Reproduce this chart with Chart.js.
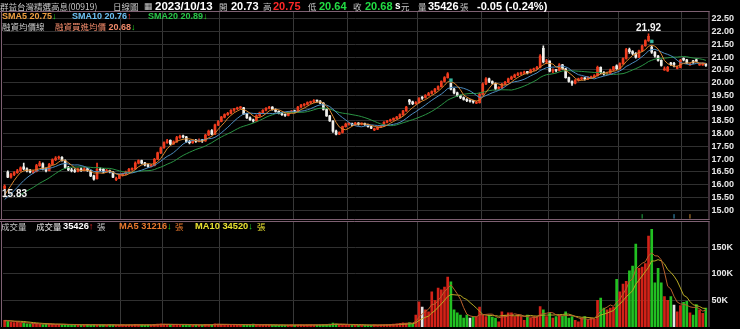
<!DOCTYPE html>
<html><head><meta charset="utf-8">
<script src="https://cdn.jsdelivr.net/npm/chart.js@4.4.0/dist/chart.umd.min.js"></script>
<style>
html,body{margin:0;padding:0;background:#000;}
#wrap{position:relative;width:740px;height:329px;background:#000;overflow:hidden;}
canvas{position:absolute;left:0;}
#c1{top:11px;}
#c2{top:221px;}
.t{position:absolute;white-space:nowrap;line-height:12px;height:12px;font-family:"Liberation Sans",Arial,sans-serif;font-weight:bold;font-size:9px;z-index:5;}
.cjk{font-family:"Noto Sans CJK TC","Noto Sans CJK SC",sans-serif;font-weight:normal;font-size:8.5px;}
.g{color:#c8c8c8;}
.dn{color:#22dd22;}
.up{color:#ff2a2a;}
</style></head>
<body><div id="wrap">
<canvas id="c1" width="740" height="209"></canvas>
<canvas id="c2" width="740" height="106"></canvas>

<span class="t cjk g" style="left:0px;top:0px;">群益台灣精選高息(00919)</span>
<span class="t cjk g" style="left:113px;top:0px;">日線圖</span>
<span class="t g" style="left:144px;top:0px;font-size:9px;font-weight:normal;">▦</span>
<span class="t" style="left:155px;top:0px;font-size:11.5px;color:#fff;">2023/10/13</span>
<span class="t cjk g" style="left:219px;top:0px;">開</span>
<span class="t" style="left:231px;top:0px;font-size:11px;color:#fff;">20.73</span>
<span class="t cjk g" style="left:263px;top:0px;">高</span>
<span class="t" style="left:273px;top:0px;font-size:11px;color:#ff2828;">20.75</span>
<span class="t cjk g" style="left:308px;top:0px;">低</span>
<span class="t" style="left:319px;top:0px;font-size:11px;color:#22dd44;">20.64</span>
<span class="t cjk g" style="left:353px;top:0px;">收</span>
<span class="t" style="left:365px;top:0px;font-size:11px;color:#22dd44;">20.68</span>
<span class="t" style="left:395px;top:0px;font-size:10px;color:#fff;">s</span>
<span class="t cjk g" style="left:401px;top:0px;">元</span>
<span class="t cjk g" style="left:418px;top:0px;">量</span>
<span class="t" style="left:428px;top:0px;font-size:11px;color:#fff;">35426</span>
<span class="t cjk g" style="left:460px;top:0px;">張</span>
<span class="t" style="left:477px;top:0px;font-size:11px;color:#fff;">-0.05 (-0.24%)</span>

<span class="t" style="left:2px;top:10px;color:#f0a040;">SMA5 20.75<span class="dn">↓</span></span>
<span class="t" style="left:72px;top:10px;color:#6cc0f4;">SMA10 20.76<span class="up">↑</span></span>
<span class="t" style="left:148px;top:10px;color:#28c848;">SMA20 20.89<span class="dn">↓</span></span>
<span class="t cjk g" style="left:2px;top:20px;">融資均價線</span>
<span class="t" style="left:55px;top:20px;color:#f08a6a;"><span class="cjk">融資買進均價</span> 20.68<span class="dn">↓</span></span>

<span class="t cjk g" style="left:1px;top:220px;">成交量</span>
<span class="t cjk" style="left:36px;top:220px;color:#e8e8e8;">成交量</span>
<span class="t" style="left:63px;top:220px;font-size:9.3px;color:#fff;">35426<span class="up">↑</span></span>
<span class="t cjk g" style="left:97px;top:220px;">張</span>
<span class="t" style="left:119px;top:220px;font-size:9.3px;color:#e8782c;">MA5 31216<span class="dn">↓</span></span>
<span class="t cjk" style="left:175px;top:220px;color:#e8782c;">張</span>
<span class="t" style="left:195px;top:220px;font-size:9.3px;color:#e8e030;">MA10 34520<span class="dn">↓</span></span>
<span class="t cjk" style="left:257px;top:220px;color:#e8e030;">張</span>
</div>
<script>
// ---------- data ----------
const priorCloses = [15.02,15.08,15.05,15.10,15.15,15.12,15.18,15.25,15.22,15.30,15.28,15.35,15.45,15.52,15.70];
const priorVolumes = [42000,25000,18000,14000,15000,12000,11000,10000,12000,9500,9000,10500,12500,11000,13000];

const opens = [
15.86,16.50,16.30,16.40,16.47,16.55,16.70,16.62,16.55,16.48,
16.52,16.75,16.82,16.62,16.55,16.80,16.98,17.05,17.08,16.95,
16.68,16.58,16.56,16.52,16.62,16.55,16.62,16.55,16.35,16.24,
16.60,16.60,16.50,16.56,16.50,16.20,16.25,16.38,16.42,16.50,
16.60,16.62,16.85,16.95,16.86,16.78,16.72,16.75,17.00,17.25,
17.45,17.65,17.74,17.60,17.68,17.85,17.92,17.88,17.70,17.65,
17.74,17.70,17.76,17.72,17.95,18.12,17.98,18.35,18.48,18.65,
18.75,18.80,18.92,18.98,19.02,19.02,18.78,18.62,18.55,18.50,
18.70,18.82,18.92,19.00,19.05,18.95,18.88,18.80,18.75,18.72,
18.85,18.90,18.85,19.05,19.12,19.15,19.22,19.25,19.30,19.28,
19.20,18.95,18.70,18.50,18.10,17.98,18.05,18.28,18.38,18.40,
18.35,18.42,18.38,18.40,18.36,18.28,18.15,18.18,18.26,18.30,
18.45,18.50,18.55,18.60,18.65,18.75,18.90,19.32,19.25,19.18,
19.22,19.40,19.42,19.50,19.58,19.65,19.75,19.85,20.05,20.20,
19.98,19.75,19.60,19.50,19.42,19.35,19.28,19.28,19.20,19.22,
19.55,19.95,20.15,20.05,19.98,19.78,19.80,19.95,20.02,20.15,
20.22,20.30,20.35,20.38,20.42,20.40,20.50,20.55,20.60,21.35,
20.82,20.85,20.45,20.50,20.48,20.70,20.55,20.20,20.05,19.98,
20.10,20.15,20.18,20.15,20.20,20.22,20.28,20.60,20.40,20.35,
20.38,20.50,20.66,20.55,20.75,20.95,21.30,21.22,21.15,21.00,
21.25,21.45,21.65,21.40,21.20,21.05,20.88,20.50,20.46,20.78,
20.72,20.56,20.60,20.96,20.90,20.70,20.86,20.90,20.70,20.70,
20.73];

const highs = [
16.00,16.55,16.45,16.52,16.60,16.70,16.85,16.66,16.60,16.58,
16.80,16.92,16.86,16.66,16.84,17.02,17.10,17.12,17.10,16.98,
16.72,16.64,16.62,16.65,16.66,16.68,16.64,16.58,16.38,16.85,
16.66,16.64,16.60,16.58,16.52,16.30,16.42,16.46,16.54,16.64,
16.66,16.90,16.98,16.97,16.88,16.80,16.80,17.04,17.28,17.48,
17.68,17.78,17.76,17.72,17.90,17.95,17.95,17.90,17.74,17.76,
17.78,17.80,17.78,17.98,18.14,18.16,18.38,18.52,18.68,18.78,
18.84,18.95,19.00,19.05,19.08,19.04,18.80,18.66,18.58,18.74,
18.85,18.95,19.03,19.08,19.07,18.98,18.90,18.83,18.78,18.88,
18.92,18.93,19.08,19.15,19.18,19.25,19.28,19.34,19.32,19.30,
19.22,18.98,18.72,18.52,18.14,18.08,18.30,18.42,18.44,18.42,
18.45,18.44,18.43,18.42,18.38,18.30,18.22,18.28,18.33,18.48,
18.53,18.58,18.62,18.68,18.78,18.92,19.08,19.35,19.28,19.26,
19.42,19.46,19.54,19.62,19.68,19.78,19.88,20.08,20.24,20.40,
20.00,19.78,19.63,19.52,19.45,19.38,19.33,19.30,19.28,19.60,
20.00,20.20,20.18,20.08,20.00,19.85,19.98,20.06,20.18,20.26,
20.34,20.40,20.42,20.46,20.45,20.54,20.58,20.64,21.10,21.45,
20.92,20.86,20.55,20.52,20.75,20.72,20.57,20.22,20.08,20.12,
20.18,20.22,20.20,20.24,20.26,20.32,20.65,20.62,20.44,20.42,
20.54,20.64,20.70,20.78,20.98,21.35,21.36,21.26,21.18,21.28,
21.48,21.68,21.92,21.45,21.22,21.08,20.90,20.62,20.64,20.80,
20.80,20.66,20.92,20.98,20.92,20.76,20.88,20.94,20.76,20.78,
20.75];

const lows = [
15.83,16.28,16.26,16.36,16.44,16.52,16.58,16.50,16.46,16.44,
16.50,16.72,16.58,16.50,16.54,16.78,16.94,17.00,16.92,16.64,
16.55,16.50,16.48,16.50,16.52,16.54,16.52,16.32,16.18,16.22,
16.54,16.46,16.48,16.46,16.28,16.16,16.24,16.34,16.40,16.48,
16.56,16.60,16.82,16.82,16.74,16.68,16.70,16.74,16.98,17.22,
17.42,17.62,17.56,17.58,17.66,17.82,17.84,17.66,17.60,17.62,
17.66,17.68,17.66,17.70,17.92,17.95,17.96,18.32,18.46,18.62,
18.72,18.78,18.88,18.94,18.98,18.76,18.60,18.52,18.45,18.48,
18.68,18.80,18.90,18.97,18.92,18.85,18.78,18.72,18.68,18.70,
18.82,18.82,18.84,19.02,19.08,19.12,19.18,19.22,19.24,19.18,
18.92,18.68,18.48,18.05,17.95,17.96,18.02,18.26,18.34,18.32,
18.33,18.34,18.35,18.33,18.26,18.20,18.12,18.16,18.24,18.28,
18.42,18.48,18.52,18.58,18.62,18.72,18.88,19.15,19.14,19.16,
19.20,19.35,19.40,19.48,19.55,19.62,19.72,19.83,20.02,20.18,
19.72,19.56,19.46,19.38,19.32,19.26,19.24,19.20,19.18,19.20,
19.52,19.92,20.00,19.94,19.72,19.74,19.78,19.92,20.00,20.12,
20.20,20.28,20.32,20.36,20.35,20.38,20.47,20.52,20.58,20.78,
20.75,20.42,20.40,20.42,20.46,20.52,20.18,20.02,19.90,19.95,
20.06,20.12,20.10,20.12,20.16,20.20,20.26,20.36,20.30,20.32,
20.36,20.46,20.52,20.53,20.72,20.92,21.15,21.10,20.96,20.98,
21.22,21.42,21.62,21.15,21.00,20.85,20.65,20.48,20.44,20.68,
20.62,20.54,20.58,20.86,20.75,20.68,20.76,20.82,20.68,20.68,
20.64];

const closes = [
15.95,16.30,16.40,16.48,16.55,16.66,16.62,16.55,16.50,16.52,
16.75,16.85,16.62,16.55,16.80,16.98,17.05,17.08,16.95,16.68,
16.58,16.55,16.52,16.60,16.55,16.62,16.55,16.35,16.22,16.60,
16.58,16.50,16.56,16.50,16.30,16.25,16.38,16.42,16.50,16.60,
16.62,16.85,16.95,16.85,16.78,16.72,16.75,17.00,17.25,17.45,
17.65,17.72,17.60,17.68,17.85,17.90,17.88,17.70,17.65,17.72,
17.70,17.75,17.72,17.95,18.10,17.98,18.35,18.48,18.65,18.75,
18.80,18.92,18.98,19.02,19.05,18.78,18.62,18.55,18.50,18.70,
18.82,18.92,19.00,19.05,18.95,18.88,18.80,18.75,18.72,18.85,
18.88,18.85,19.05,19.12,19.15,19.22,19.25,19.30,19.28,19.20,
18.95,18.70,18.50,18.10,17.98,18.05,18.28,18.38,18.40,18.35,
18.42,18.38,18.40,18.36,18.28,18.22,18.18,18.26,18.30,18.45,
18.50,18.55,18.60,18.65,18.75,18.90,19.05,19.25,19.18,19.22,
19.38,19.40,19.50,19.58,19.65,19.75,19.85,20.05,20.20,20.35,
19.75,19.60,19.50,19.42,19.35,19.30,19.28,19.25,19.22,19.55,
19.95,20.15,20.05,19.98,19.78,19.80,19.95,20.02,20.15,20.22,
20.30,20.35,20.38,20.42,20.40,20.50,20.55,20.60,21.05,20.82,
20.85,20.45,20.50,20.48,20.70,20.55,20.20,20.05,19.98,20.10,
20.15,20.18,20.15,20.20,20.22,20.28,20.60,20.40,20.35,20.38,
20.50,20.62,20.55,20.75,20.95,21.30,21.22,21.15,21.00,21.25,
21.45,21.65,21.82,21.20,21.05,20.88,20.68,20.55,20.60,20.72,
20.72,20.60,20.88,20.90,20.78,20.74,20.80,20.84,20.72,20.73,
20.68];

const volumes = [
12000,9500,8200,7600,9000,7200,6800,5200,4800,5500,
6200,4600,3900,4300,5100,4700,3800,4400,3600,4100,
3300,3700,3000,3400,2900,3600,4200,3100,3800,2700,
3200,3500,2800,3900,3300,2600,3100,3600,2900,3400,
3000,4100,3700,3200,2800,3300,3000,4300,4800,5200,
4600,4100,3600,3900,4400,3500,3200,3800,3100,2900,
3300,2700,3000,4200,4500,3800,5100,4700,4300,3900,
3500,3700,3300,3100,3600,4000,3800,3300,4600,3400,
3100,2900,3200,3400,2800,3000,2600,2900,2700,3100,
3300,2800,3500,3200,3000,3400,3600,3100,2900,3300,
3700,4200,4800,6500,5200,3900,3600,3300,3000,2800,
2900,2600,2800,3100,2700,3000,3200,2900,3300,3600,
3800,4200,4600,5400,6200,7100,6800,7500,5800,22000,
47000,37000,32000,28000,66000,50000,73000,70000,75000,94000,
85000,32000,26000,22000,16000,22000,16000,19000,19000,37000,
22000,19000,22000,18000,16000,9000,28000,22000,26000,26000,
19000,22000,19000,12000,22000,16000,19000,19000,38000,32000,
19000,26000,16000,19000,22000,20000,28000,16000,19000,12000,
9000,16000,19000,12000,16000,14000,50000,54000,35000,32000,
35000,37000,90000,66000,81000,86000,106000,115000,157000,111000,
113000,120000,172000,185000,83000,111000,83000,57000,50000,57000,
41000,28000,40000,46000,48000,26000,22000,42000,32000,25000,
35426];

const monthStartIdx = [37, 50, 68, 91, 108, 130, 150, 171, 193, 213];
const exDivIdx = [140, 203];
const exDivMarkY = [20.10, 21.62];
const eventIdx = [200, 210, 215];
const eventColors = ['#22aa44', '#3a9ac8', '#c88a30'];
const priceTicks = [15.00,15.50,16.00,16.50,17.00,17.50,18.00,18.50,19.00,19.50,20.00,20.50,21.00,21.50,22.00,22.50];
const volTicks = [50000, 100000, 150000];

// ---------- derived ----------
const labels = closes.map((c, i) => String(i));
function sma(series, prior, n) {
  const all = prior.concat(series);
  return series.map((_, i) => {
    const end = prior.length + i;
    if (end + 1 < n) return null;
    let s = 0;
    for (let k = end - n + 1; k <= end; k++) s += all[k];
    return s / n;
  });
}
const sma5 = sma(closes, priorCloses, 5);
const sma10 = sma(closes, priorCloses, 10);
const sma20 = sma(closes, priorCloses, 20);
const vma5 = sma(volumes, priorVolumes, 5);
const vma10 = sma(volumes, priorVolumes, 10);

const dir = closes.map((c, i) => c > opens[i] ? 1 : (c < opens[i] ? -1 : 0));
const candleColor = dir.map(d => d > 0 ? '#f03c1e' : '#f0f0ec');
const volColor = dir.map(d => d > 0 ? '#d22218' : (d < 0 ? '#22c022' : '#e4e4e4'));
const bodies = opens.map((o, i) => [Math.min(o, closes[i]), Math.max(o, closes[i])]);
const wicks = lows.map((l, i) => [l, highs[i]]);
const exDivData = closes.map(() => null);
exDivIdx.forEach((k, j) => { exDivData[k] = exDivMarkY[j]; });
const eventData = closes.map(() => null);
const eventPtColor = closes.map(() => 'rgba(0,0,0,0)');
eventIdx.forEach((k, j) => { eventData[k] = 14.76; eventPtColor[k] = eventColors[j]; });

const monthSet = new Set(monthStartIdx);
const FRAME = '#7e6072';

const framePlugin = {
  id: 'frame',
  afterDraw(chart) {
    const {ctx, chartArea: a} = chart;
    const isPrice = chart.canvas.id === 'c1';
    ctx.save();
    ctx.strokeStyle = FRAME;
    ctx.lineWidth = 1;
    ctx.beginPath();
    ctx.moveTo(0, a.top + 0.5); ctx.lineTo(a.right + 2, a.top + 0.5);
    ctx.moveTo(1.5, a.top); ctx.lineTo(1.5, a.bottom);
    ctx.moveTo(a.right + 1.5, a.top); ctx.lineTo(a.right + 1.5, a.bottom);
    if (isPrice) { ctx.moveTo(0, a.bottom - 0.5); ctx.lineTo(a.right + 2, a.bottom - 0.5); }
    ctx.stroke();
    ctx.restore();
  }
};

const extremesPlugin = {
  id: 'extremes',
  afterDatasetsDraw(chart) {
    const {ctx, scales: {x, y}, chartArea} = chart;
    const hiVal = Math.max(...highs), loVal = Math.min(...lows);
    const hi = highs.indexOf(hiVal), lo = lows.indexOf(loVal);
    ctx.save();
    ctx.font = 'bold 10px "Liberation Sans", Arial, sans-serif';
    ctx.fillStyle = '#f2f2f2';
    ctx.textAlign = 'center';
    ctx.textBaseline = 'bottom';
    ctx.fillText(hiVal.toFixed(2), x.getPixelForValue(hi), y.getPixelForValue(hiVal) - 1);
    const t = loVal.toFixed(2);
    const w = ctx.measureText(t).width;
    ctx.textAlign = 'left';
    ctx.textBaseline = 'top';
    ctx.fillText(t, Math.max(chartArea.left - 1, x.getPixelForValue(lo) - w / 2), y.getPixelForValue(loVal));
    ctx.restore();
  }
};

const xScale = {
  offset: true,
  grid: { offset: true, drawTicks: false, lineWidth: 1, color: c => monthSet.has(c.index) ? '#383838' : 'rgba(0,0,0,0)' },
  ticks: { display: false, autoSkip: false },
  border: { display: false }
};
function yScale(min, max, ticks, fmt) {
  return {
    position: 'right', min, max,
    afterBuildTicks: s => { s.ticks = ticks.map(v => ({value: v})); },
    afterFit: s => { s.width = 32.5; s.paddingTop = 0; s.paddingBottom = 0; },
    ticks: { color: '#e8e8e8', padding: 4, autoSkip: false, font: {family: '"Liberation Sans", Arial, sans-serif', weight: 'bold', size: 9}, callback: fmt },
    grid: { color: '#303030', drawTicks: false, lineWidth: 1 },
    border: { display: false }
  };
}
const common = {
  responsive: false, animation: false, devicePixelRatio: 1,
  layout: { autoPadding: false, padding: { left: 3, right: 0, top: 0, bottom: 0 } },
  plugins: { legend: { display: false }, tooltip: { enabled: false } },
  events: []
};

// place values so that the reference tick positions are reproduced
function calibrate(chart, pageTop, refVal, refY, pxPerUnit) {
  for (let k = 0; k < 2; k++) {
    const a = chart.chartArea;
    chart.options.scales.y.max = refVal + (refY - (pageTop + a.top)) / pxPerUnit;
    chart.options.scales.y.min = refVal - ((pageTop + a.bottom) - refY) / pxPerUnit;
    chart.update('none');
  }
}

const priceChart = new Chart(document.getElementById('c1'), {
  type: 'bar',
  data: { labels, datasets: [
    { type: 'line', data: sma5, borderColor: '#d8862e', borderWidth: 1, pointRadius: 0, pointHoverRadius: 0, order: 0 },
    { type: 'line', data: sma10, borderColor: '#4c8cc0', borderWidth: 1, pointRadius: 0, pointHoverRadius: 0, order: 0 },
    { type: 'line', data: sma20, borderColor: '#2a9444', borderWidth: 1, pointRadius: 0, pointHoverRadius: 0, order: 0 },
    { type: 'line', data: exDivData, showLine: false, pointStyle: 'rect', pointRadius: 2.2, pointBackgroundColor: '#3ab8a0', pointBorderColor: '#2a9a88', pointBorderWidth: 0.5, order: -1 },
    { type: 'line', data: eventData, showLine: false, pointStyle: 'line', pointRotation: 90, pointRadius: 2.2, pointBorderColor: eventPtColor, pointBorderWidth: 1, order: -1 },
    { type: 'bar', data: bodies, backgroundColor: candleColor, barThickness: 2, grouped: false, minBarLength: 1, order: 2 },
    { type: 'bar', data: wicks, backgroundColor: candleColor, barThickness: 1, grouped: false, order: 3 }
  ]},
  options: Object.assign({}, common, {
    scales: { x: xScale, y: yScale(14.62, 22.814, priceTicks, v => Number(v).toFixed(2)) }
  }),
  plugins: [framePlugin, extremesPlugin]
});
calibrate(priceChart, 11, 22.5, 19, 25.5);

const volChart = new Chart(document.getElementById('c2'), {
  type: 'bar',
  data: { labels, datasets: [
    { type: 'line', data: vma5, borderColor: '#b8602c', borderWidth: 1, pointRadius: 0, pointHoverRadius: 0, order: 0 },
    { type: 'line', data: vma10, borderColor: '#b8aa24', borderWidth: 1, pointRadius: 0, pointHoverRadius: 0, order: 0 },
    { type: 'bar', data: volumes, backgroundColor: volColor, barThickness: 2, grouped: false, order: 2 }
  ]},
  options: Object.assign({}, common, {
    scales: { x: xScale, y: yScale(0, 201500, volTicks, v => (v / 1000) + 'K') }
  }),
  plugins: [framePlugin]
});
calibrate(volChart, 221, 150000, 247.7, 26.3 / 50000);
</script>
</body></html>
